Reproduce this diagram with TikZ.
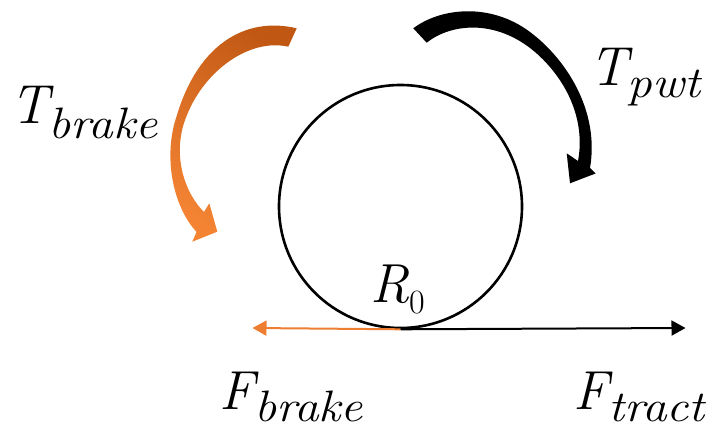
\documentclass[tikz,border=0pt]{standalone}
\usetikzlibrary{arrows.meta}
\definecolor{orgline}{RGB}{237,125,49}
\definecolor{orgdark}{RGB}{192,88,20}
\definecolor{orglight}{RGB}{244,132,52}
\newcommand{\mylbl}[3]{{\fontsize{55}{60}\selectfont\itshape #1}\raisebox{-#3}{\scalebox{1.12}[1]{\fontsize{44}{48}\selectfont\itshape #2}}}
\tikzset{
  lbl/.style={anchor=base west, inner sep=0pt, outer sep=0pt},
  wheelstyle/.style={circle, draw=black, line width=2.6pt, minimum size=243pt, inner sep=0pt},
  force/.style={line width=2pt, -{Triangle[length=14pt,width=15pt]}},
}
\begin{document}
\begin{tikzpicture}[x=1pt,y=-1pt]
\useasboundingbox (0,0) rectangle (715,428);
\node[wheelstyle] (wheel) at (400.5,206.5) {};
\coordinate (contact) at (wheel.south);
\coordinate (fleft) at (252.5,328);
\coordinate (fright) at (685.5,328);
\draw[force, draw=orgline, fill=orgline] (contact) -- (fleft);
\draw[force, draw=black, fill=black] (contact) -- (fright);

% orange curved arrow (brake torque)
\shade[top color=orgdark, bottom color=orglight, shading angle=-35]
  (296.7,28.3) .. controls (245,16) and (198,45) .. (177,115)
  .. controls (163,155) and (172,205) .. (196.5,232)
  -- (192.3,241.7) -- (217.3,231.7) -- (209.3,203.3) -- (204,212)
  .. controls (182,190) and (172,150) .. (187,115)
  .. controls (205,70) and (250,38) .. (288.3,46.7)
  -- cycle;

% black curved arrow (powertrain torque)
\fill[black]
  (413.3,28.3) .. controls (440,8) and (490,2) .. (530,32)
  .. controls (565,58) and (600,110) .. (590,168)
  -- (595.5,173.5) -- (570,183.3) -- (566.7,153.3) -- (578,161)
  .. controls (586,118) and (565,78) .. (535,52)
  .. controls (495,18) and (450,24) .. (426.7,42.7)
  -- cycle;

\node[lbl] (tbrake) at (10,123) {\mylbl{T}{brake}{15pt}};
\node[lbl] (tpwt) at (589,85) {\mylbl{T}{pwt}{13pt}};
\node[lbl] (fbrake) at (219,409) {\mylbl{F}{brake}{12pt}};
\node[lbl] (ftract) at (573,409) {\mylbl{F}{tract}{12pt}};
\node[lbl] (rzero) at (370,302) {{\fontsize{55}{60}\selectfont\itshape R}\raisebox{-11pt}{\fontsize{34}{38}\selectfont 0}};
\end{tikzpicture}
\end{document}
